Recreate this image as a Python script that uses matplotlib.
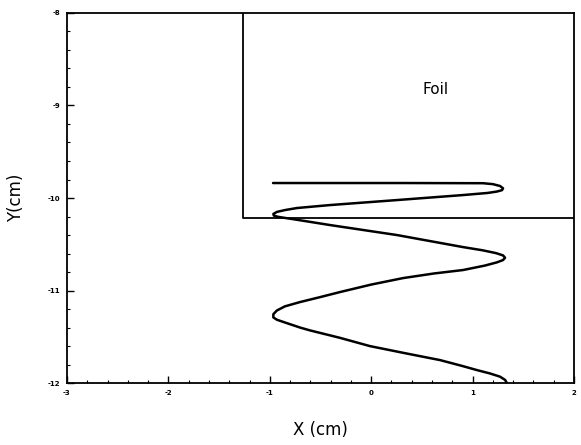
import matplotlib
matplotlib.use('Agg')
import matplotlib.pyplot as plt
from matplotlib.ticker import MultipleLocator

# curve (x, y in cm)
curve_x = [-0.968, 0.300, 1.103, 1.200, 1.270, 1.300, 1.290, 1.240, 1.150, 0.905,
           0.254, -0.406, -0.732, -0.850, -0.930, -0.965, -0.960, -0.920, -0.850, -0.732,
           -0.406, 0.254, 0.905, 1.100, 1.230, 1.300, 1.320, 1.300, 1.240, 1.120,
           0.905, 0.620, 0.314, 0.000, -0.308, -0.520, -0.702, -0.850, -0.930, -0.965,
           -0.965, -0.930, -0.850, -0.700, -0.604, -0.310, -0.012, 0.350, 0.679, 0.900,
           1.043, 1.170, 1.270, 1.320, 1.339]
curve_y = [-9.838, -9.838, -9.840, -9.850, -9.870, -9.895, -9.915, -9.930, -9.945, -9.968,
           -10.022, -10.076, -10.108, -10.130, -10.150, -10.172, -10.190, -10.203, -10.215, -10.235,
           -10.292, -10.400, -10.530, -10.565, -10.595, -10.620, -10.645, -10.670, -10.695, -10.730,
           -10.778, -10.815, -10.865, -10.935, -11.016, -11.075, -11.124, -11.170, -11.215, -11.255,
           -11.290, -11.315, -11.345, -11.400, -11.430, -11.510, -11.600, -11.680, -11.751, -11.815,
           -11.859, -11.895, -11.930, -11.965, -12.0]

# foil outline
foil_x = [-1.264, -1.264, 2.0]
foil_y = [-8.0, -10.216, -10.216]

xticks = [-3, -2, -1, 0, 1, 2]
yticks = [-8, -9, -10, -11, -12]

fig = plt.figure(figsize=(5.81, 4.45), dpi=100)
ax = fig.add_axes([0.1153, 0.139, 0.8727, 0.832])

ax.plot(foil_x, foil_y, color='black', lw=1.3)
ax.plot(curve_x, curve_y, color='black', lw=1.8, solid_joinstyle='round', solid_capstyle='round')
ax.text(0.63, -8.83, 'Foil', fontsize=11, ha='center', va='center')

ax.set_xlim(-3, 2)
ax.set_ylim(-12, -8)
ax.set_xticks(xticks)
ax.set_xticklabels([str(t) for t in xticks])
ax.set_yticks(yticks)
ax.set_yticklabels([str(t) for t in yticks])
ax.xaxis.set_minor_locator(MultipleLocator(0.2))
ax.yaxis.set_minor_locator(MultipleLocator(0.2))
ax.tick_params(which='major', direction='in', length=5, width=1, labelsize=5, pad=5)
ax.tick_params(which='minor', direction='in', length=2.5, width=0.8)
for lab in ax.get_xticklabels() + ax.get_yticklabels():
    lab.set_fontweight('bold')
for s in ax.spines.values():
    s.set_linewidth(1.3)

ax.set_xlabel('X (cm)', fontsize=12, labelpad=18)
ax.set_ylabel('Y(cm)', fontsize=12, labelpad=16)

fig.savefig('out.png', dpi=100)
